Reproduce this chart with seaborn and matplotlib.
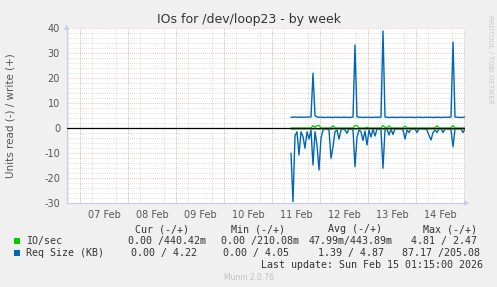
import matplotlib
matplotlib.use("Agg")
import matplotlib.pyplot as plt
import matplotlib.dates as mdates
import pandas as pd
import seaborn as sns

# ---------------- data (hourly samples from 2026-02-11 09:30) ----------------
start_time = "2026-02-11 09:30"
x_start, x_end = "2026-02-06 17:30", "2026-02-15 00:30"
day_labels = ["07 Feb", "08 Feb", "09 Feb", "10 Feb", "11 Feb", "12 Feb", "13 Feb", "14 Feb"]

req_write = [4.3, 4.3, 4.4, 4.3, 4.3, 4.4, 4.3, 4.3, 4.4, 4.4, 4.4,
             21.9,
             5.0, 4.4, 4.3, 4.3, 4.3, 4.2, 4.3, 4.3, 4.3, 4.2, 4.3, 4.3, 4.3, 4.2, 4.3, 4.3, 4.3, 4.2, 4.3, 4.4,
             33.2,
             4.5, 4.3, 4.3, 4.2, 4.3, 4.3, 4.3, 4.2, 4.3, 4.3, 4.3, 4.3, 4.4,
             38.8,
             4.4, 4.3, 4.2, 4.3, 4.3, 4.3, 4.2, 4.3, 4.3, 4.3, 4.2, 4.3, 4.3, 4.3, 4.3, 4.2, 4.3,
             4.3, 4.3, 4.2, 4.3, 4.3, 4.3, 4.3, 4.2, 4.3, 4.3, 4.3, 4.2, 4.3, 4.3, 4.3, 4.3, 4.4,
             34.4,
             4.4, 4.3, 4.3, 4.2, 4.3, 4.3]
req_read = [-10.1, -29.5, -3.0, -1.5, -10.8, -1.5, -3.4, -8.1, -1.5, -4.4,
            -0.8, -14.8, -1.5, -6.8, -16.8, -4.0, -0.8, -0.4, -0.4, -0.8,
            -12.1, -7.5, -1.5, -0.8, -4.4, -0.8, -0.4, -0.8, -2.1, -0.4,
            -0.4, -0.8, -15.5, -3.6, -0.8, -1.5, -5.0, -1.2, -6.8, -0.8,
            -3.6, -0.4, -3.2, -0.4, -0.4, -0.8, -16.1, -0.8, -0.4, -2.8,
            -0.4, -2.6, -0.4, -0.3, -0.3, -0.4, -0.8, -4.4, -0.8, -1.8,
            -0.4, -0.3, -0.4, -1.8, -0.3, -0.3, -0.3, -0.4, -0.8, -3.0,
            -4.8, -1.8, -0.8, -1.8, -0.4, -0.3, -1.8, -0.4, -0.3, -0.4,
            -0.8, -7.5, -0.4, -0.3, -0.3, -0.4, -1.8, -0.4]
io_write = [0.0, 0.0, 0.0, 0.0, 0.0, 0.0, 0.0, 0.0, 0.0, 0.0,
            0.0, 1.0, 0.2, 1.0, 1.0, 0.0, 0.0, 0.0, 0.0, 0.0,
            0.0, 0.9, 0.0, 0.0, 0.0, 0.0, 0.0, 0.0, 0.0, 0.0,
            0.0, 0.0, 1.0, 0.9, 0.0, 0.0, 0.0, 0.0, 0.3, 0.0,
            0.0, 0.0, 0.0, 0.0, 0.0, 0.0, 1.0, 0.3, 0.0, 0.9,
            0.0, 0.0, 0.0, 0.0, 0.0, 0.0, 0.0, 0.8, 0.0, 0.0,
            0.0, 0.0, 0.0, 0.0, 0.0, 0.0, 0.0, 0.0, 0.0, 0.0,
            0.0, 0.0, 0.0, 0.9, 0.0, 0.0, 0.0, 0.0, 0.0, 0.0,
            0.0, 1.0, 0.0, 0.0, 0.0, 0.0, 0.0, 0.0]
io_read = [-0.4, -0.5, -0.4, -0.4, -0.4, -0.4, -0.4, -0.4, -0.4, -0.4,
           -0.4, -0.5, -0.4, -0.4, -0.5, -0.4, -0.4, -0.4, -0.4, -0.4,
           -0.5, -0.4, -0.4, -0.4, -0.4, -0.4, -0.4, -0.4, -0.4, -0.4,
           -0.4, -0.4, -0.5, -0.4, -0.4, -0.4, -0.4, -0.4, -0.4, -0.4,
           -0.4, -0.4, -0.4, -0.4, -0.4, -0.4, -0.5, -0.4, -0.4, -0.4,
           -0.4, -0.4, -0.4, -0.4, -0.4, -0.4, -0.4, -0.4, -0.4, -0.4,
           -0.4, -0.4, -0.4, -0.4, -0.4, -0.4, -0.4, -0.4, -0.4, -0.4,
           -0.4, -0.4, -0.4, -0.4, -0.4, -0.4, -0.4, -0.4, -0.4, -0.4,
           -0.4, -0.5, -0.4, -0.4, -0.4, -0.4, -0.4, -0.4]

legend_names = ["IO/sec", "Req Size (KB)"]
legend_colors = ["#00CC00", "#0066B3"]
col_headers = ["Cur (-/+)", "Min (-/+)", "Avg (-/+)", "Max (-/+)"]
legend_values = [
    ["0.00 /440.42m", "0.00 /210.08m", "47.99m/443.89m", "4.81 / 2.47"],
    ["0.00 / 4.22", "0.00 / 4.05", "1.39 / 4.87", "87.17 /205.08"],
]
last_update = "Last update: Sun Feb 15 01:15:00 2026"
title = "IOs for /dev/loop23 - by week"
ylabel = "Units read (-) / write (+)"

# ---------------- build frame ----------------
times = pd.date_range(start_time, periods=len(req_write), freq="h")
df = pd.concat([
    pd.DataFrame({"time": times, "value": io_write, "series": "io_w"}),
    pd.DataFrame({"time": times, "value": io_read, "series": "io_r"}),
    pd.DataFrame({"time": times, "value": req_read, "series": "req_r"}),
    pd.DataFrame({"time": times, "value": req_write, "series": "req_w"}),
])
palette = {"io_w": "#00CC00", "io_r": "#00CC00", "req_r": "#0066B3", "req_w": "#0066B3"}

sns.set_style("white")
plt.rcParams["font.family"] = ["DejaVu Sans"]
plt.rcParams["axes.unicode_minus"] = False

W, H = 497, 287
fig = plt.figure(figsize=(W / 100, H / 100), dpi=100, facecolor="#F0F0F0")
L, R, T, B = 67, 465, 28, 203
ax = fig.add_axes([L / W, 1 - B / H, (R - L) / W, (B - T) / H])
ax.set_facecolor("white")

sns.lineplot(data=df[df.series.isin(["req_r", "req_w"])], x="time", y="value", hue="series",
             palette=palette, legend=False, estimator=None, lw=1.0, ax=ax, zorder=3)
sns.lineplot(data=df[df.series.isin(["io_w", "io_r"])], x="time", y="value", hue="series",
             palette=palette, legend=False, estimator=None, lw=0.9, ax=ax, zorder=4)
ax.axhline(0, color="black", lw=0.9, zorder=5)

ax.set_xlim(pd.Timestamp(x_start), pd.Timestamp(x_end))
ax.set_ylim(-30, 40)

# y ticks / grids
ax.set_yticks(range(-30, 41, 10))
ax.set_yticks(range(-30, 41, 2), minor=True)
minor_style = dict(color="#d4d4d4", lw=0.6, ls=(0, (1, 1.5)))
major_style = dict(color="#f0a8a8", lw=0.6, ls=(0, (1, 1.5)))
ax.yaxis.grid(True, which="minor", **minor_style)
ax.yaxis.grid(True, which="major", **major_style)

# x: labels at noon, red lines at midnight, gray minor every 6 h
noons = [pd.Timestamp("2026-02-07 12:00") + pd.Timedelta(days=k) for k in range(len(day_labels))]
ax.set_xticks(noons, day_labels)
ax.xaxis.set_minor_locator(mdates.HourLocator(byhour=[0, 6, 12, 18]))
ax.xaxis.grid(False, which="major")
ax.xaxis.grid(True, which="minor", **minor_style)
for k in range(9):
    ax.axvline(pd.Timestamp("2026-02-07") + pd.Timedelta(days=k), zorder=1, **major_style)
ax.set_axisbelow(True)

ax.tick_params(axis="both", which="both", length=0, labelsize=7, labelcolor="#555555")
ax.tick_params(axis="x", pad=5)
ax.tick_params(axis="y", pad=5)
ax.set_xlabel("")
ax.set_ylabel("")
for s in ["top", "right"]:
    ax.spines[s].set_visible(False)
for s in ["left", "bottom"]:
    ax.spines[s].set_color("#c8cce8")
    ax.spines[s].set_linewidth(0.8)

def px(x, y):
    return x / W, 1 - y / H

# axis arrows
fig.text(*px(67, 27), "\u25B2", color="#c8cce8", fontsize=5, ha="center", va="center")
fig.text(*px(467, 203), "\u25B6", color="#c8cce8", fontsize=5, ha="center", va="center")

fig.text(*px(249, 19), title, fontsize=9, color="#333333", ha="center", va="center")
fig.text(*px(11, 116), ylabel, fontsize=7.5, color="#555555", rotation=90, ha="center", va="center")
fig.text(*px(490, 15), "RRDTOOL / TOBI OETIKER", fontsize=5, color="#c8c8c8",
         rotation=270, ha="center", va="top")

mono = dict(family="DejaVu Sans Mono", fontsize=7.2, color="#333333", va="center")
hdr_left = [135, 231, 328, 423]
cell_center = [[167, 260, 350.5, 444], [164, 256, 350.5, 440.5]]
for j in range(4):
    fig.text(*px(hdr_left[j], 229), col_headers[j], ha="left", **mono)
row_y = [241, 253]
for r in range(2):
    y = row_y[r]
    fig.patches.append(plt.Rectangle(px(14, y + 3), 6 / W, 6 / H, transform=fig.transFigure,
                                     facecolor=legend_colors[r], edgecolor="none"))
    fig.text(*px(26, y), legend_names[r], ha="left", **mono)
    for j in range(4):
        fig.text(*px(cell_center[r][j], y), legend_values[r][j], ha="center", **mono)
fig.text(*px(483, 265), last_update, ha="right", **mono)
fig.text(*px(249, 277), "Munin 2.0.76", fontsize=5.5, color="#c0c0c0", ha="center", va="center")

fig.savefig("out.png", dpi=100, facecolor=fig.get_facecolor())
